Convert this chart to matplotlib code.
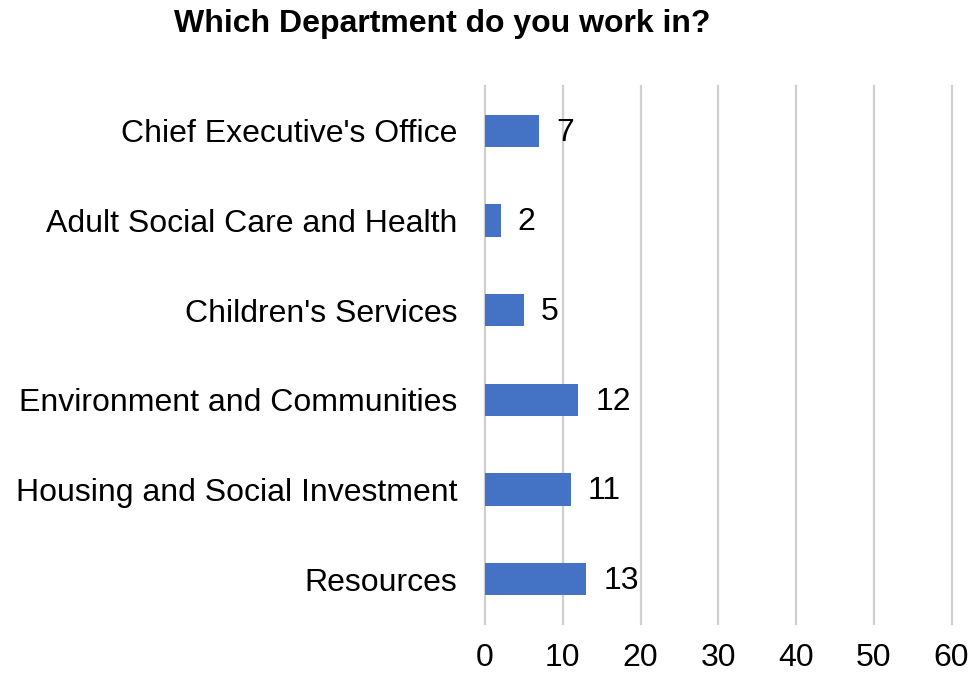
import matplotlib
matplotlib.use("Agg")
import matplotlib.pyplot as plt

categories = [
    "Chief Executive's Office",
    "Adult Social Care and Health",
    "Children's Services",
    "Environment and Communities",
    "Housing and Social Investment",
    "Resources",
]
counts = [7, 2, 5, 12, 11, 13]
x_ticks = [0, 10, 20, 30, 40, 50, 60]

plt.rcParams["font.family"] = ["Liberation Sans", "DejaVu Sans"]

fig = plt.figure(figsize=(9.72, 6.75), dpi=100)
ax = fig.add_axes([0.499, 0.0756, 0.48, 0.797])

y = list(range(len(categories)))
ax.barh(y, counts, height=0.36, color="#4472C4", zorder=3)
ax.set_ylim(len(categories) - 0.5, -0.5)

for yi, v in zip(y, counts):
    ax.text(v + 2.2, yi + 0.02, str(v), va="center", ha="left", fontsize=23, color="#000000")

ax.set_xlim(0, 60)
ax.set_xticks(x_ticks)
ax.set_xticklabels([str(t) for t in x_ticks], fontsize=23)
ax.set_yticks(y)
ax.set_yticklabels(categories, fontsize=23)
ax.tick_params(axis="both", length=0)
ax.tick_params(axis="x", pad=14)
ax.tick_params(axis="y", pad=20)
ax.grid(axis="x", color="#d0d0d0", linewidth=1.6, zorder=0)
for gl in ax.get_xgridlines():
    gl.set_clip_on(False)
for s in ax.spines.values():
    s.set_visible(False)

fig.text(0.455, 0.965, "Which Department do you work in?", ha="center", va="center",
         fontsize=23, fontweight="bold")

fig.savefig("out.png", dpi=100, facecolor="white")
